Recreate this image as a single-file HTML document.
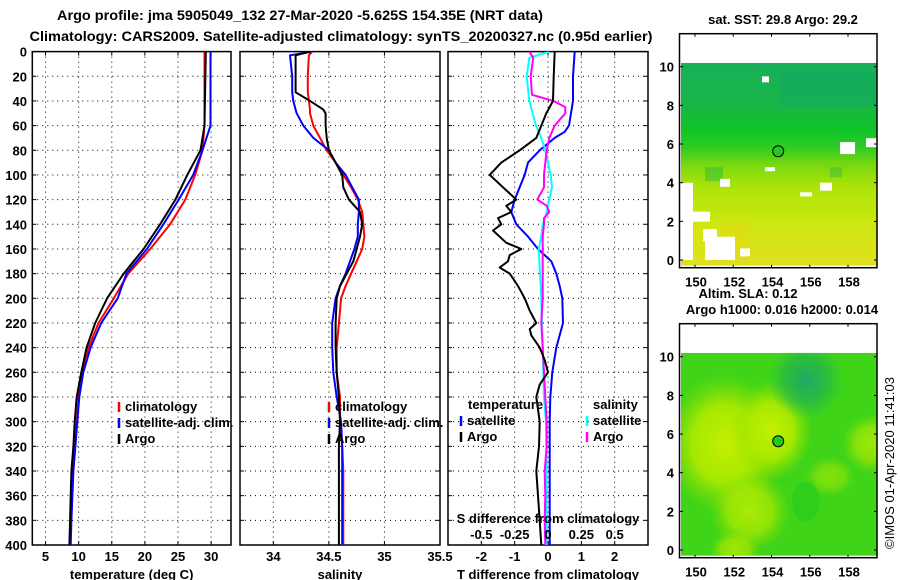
<!DOCTYPE html>
<html><head><meta charset="utf-8"><style>
html,body{margin:0;padding:0;background:#fff}
svg{display:block;font-family:"Liberation Sans",Arial,sans-serif;font-weight:bold}
</style></head><body>
<svg id="s" width="900" height="580" viewBox="0 0 900 580" xmlns="http://www.w3.org/2000/svg">
<defs>
<linearGradient id="sstg" x1="0" y1="0" x2="0" y2="1">
<stop offset="0" stop-color="#18b058"/><stop offset="0.2" stop-color="#18b448"/>
<stop offset="0.33" stop-color="#10c428"/><stop offset="0.42" stop-color="#30cc20"/>
<stop offset="0.5" stop-color="#78d810"/><stop offset="0.62" stop-color="#b0e408"/>
<stop offset="0.8" stop-color="#cce810"/><stop offset="1" stop-color="#e0e020"/></linearGradient>
<radialGradient id="yb1" cx="0.5" cy="0.5" r="0.5"><stop offset="0" stop-color="#c4f000"/><stop offset="0.55" stop-color="#b0ea00" stop-opacity="0.9"/><stop offset="1" stop-color="#90e000" stop-opacity="0"/></radialGradient>
<radialGradient id="tb1" cx="0.5" cy="0.5" r="0.5"><stop offset="0" stop-color="#20a868"/><stop offset="0.6" stop-color="#20b050" stop-opacity="0.6"/><stop offset="1" stop-color="#20c040" stop-opacity="0"/></radialGradient>
</defs>
<text x="300" y="20" font-size="14" text-anchor="middle" textLength="486" lengthAdjust="spacingAndGlyphs">Argo profile: jma 5905049_132 27-Mar-2020 -5.625S 154.35E (NRT data)</text>
<text x="341" y="41" font-size="14" text-anchor="middle" textLength="623" lengthAdjust="spacingAndGlyphs">Climatology: CARS2009. Satellite-adjusted climatology: synTS_20200327.nc (0.95d earlier)</text>
<g id="plots"></g>
<g id="maps"></g>
</svg>
<script>
// ---- data ----
const depthT = [0,60,80,100,120,140,160,180,200,220,240,260,280,300,320,340,360,380,400];
const tempArgo = [29.2,29.0,28.4,26.4,24.6,22.3,19.8,16.8,14.3,12.5,11.2,10.4,9.7,9.4,9.2,8.9,8.8,8.7,8.6];
const tempClim = [29.0,29.0,28.7,27.6,26.1,23.8,20.8,17.5,15.3,13.0,11.5,10.5,10.0,9.7,9.3,9.1,8.9,8.8,8.7];
const tempSat  = [29.9,29.9,28.7,27.3,25.1,22.8,20.3,17.2,15.9,13.4,11.8,10.7,10.1,9.8,9.5,9.2,9.05,8.9,8.8];
const depthS = [0,3,20,30,33,40,47,50,60,70,80,90,100,110,120,130,140,150,160,170,180,190,200,220,240,260,280,300,320,340,360,380,400];
const salArgo = [34.33,34.20,34.20,34.20,34.20,34.33,34.45,34.47,34.47,34.48,34.50,34.56,34.62,34.63,34.68,34.78,34.80,34.78,34.75,34.72,34.66,34.60,34.57,34.56,34.56,34.57,34.59,34.60,34.59,34.59,34.59,34.59,34.59];
const salClim = [34.35,34.32,34.31,34.31,34.31,34.32,34.33,34.33,34.36,34.42,34.48,34.56,34.63,34.70,34.76,34.80,34.81,34.82,34.80,34.75,34.70,34.65,34.61,34.59,34.57,34.57,34.60,34.60,34.62,34.63,34.63,34.63,34.63];
const salSat  = [34.35,34.15,34.17,34.17,34.17,34.18,34.20,34.21,34.27,34.36,34.50,34.56,34.65,34.71,34.77,34.77,34.76,34.76,34.73,34.69,34.65,34.60,34.56,34.53,34.53,34.54,34.57,34.61,34.62,34.62,34.62,34.62,34.62];
const dDepthTS = [0,20,40,60,65,70,80,90,100,110,120,130,140,150,160,170,180,190,200,220,240,260,280,300,400];
const dTSat = [0.8,0.75,0.75,0.63,0.5,0.2,-0.25,-0.6,-0.7,-0.85,-1.0,-1.1,-0.95,-0.6,-0.3,0.1,0.25,0.35,0.43,0.45,0.25,0.13,0.07,0.05,0.05];
const dDepthTA = [0,20,40,50,60,70,80,90,100,110,120,125,130,135,140,145,155,160,165,170,175,180,190,200,210,220,225,230,240,250,260,270,280,290,300,320,340,360,380,400];
const dTArgo = [0.2,0.17,0.15,-0.05,-0.2,-0.35,-0.85,-1.4,-1.75,-1.35,-0.95,-1.25,-1.1,-1.5,-1.4,-1.65,-1.25,-0.8,-1.15,-1.2,-1.45,-1.15,-0.9,-0.7,-0.55,-0.35,-0.55,-0.5,-0.25,-0.1,0,-0.25,-0.35,-0.3,-0.25,-0.27,-0.35,-0.3,-0.25,-0.2];
const dDepthSS = [0,5,20,40,60,70,80,90,100,110,120,130,140,150,160,180,200,240,280,300,340,400];
const dSSat = [0.01,-0.14,-0.16,-0.14,-0.09,-0.05,-0.02,0,0.02,0.03,0.01,-0.01,-0.04,-0.05,-0.07,-0.06,-0.05,-0.04,-0.03,-0.015,-0.01,-0.01];
const dDepthSA = [0,5,20,35,40,45,50,60,70,80,90,100,110,120,125,130,135,140,150,160,180,200,220,240,260,280,300,320,340,360,380,400];
const dSArgo = [-0.14,-0.11,-0.13,-0.12,0.04,0.13,0.13,0.05,0.01,-0.01,-0.02,-0.03,-0.03,-0.08,-0.01,0.01,-0.03,-0.03,-0.04,-0.04,-0.04,-0.04,-0.05,-0.04,-0.03,-0.02,-0.01,-0.01,-0.025,-0.02,-0.025,-0.02];
const depthTicks = [0,20,40,60,80,100,120,140,160,180,200,220,240,260,280,300,320,340,360,380,400];
const tTicks = [5,10,15,20,25,30];
const sTicks = [34,34.5,35,35.5];
const dtTicks = [-2,-1,0,1,2];
const dsTicks = [-0.5,-0.25,0,0.25,0.5];
const dsLabels = ['-0.5','-0.25','0','0.25','0.5'];
const lonTicks = [150,152,154,156,158];
const latTicks = [0,2,4,6,8,10];
const argoLon = 154.35, argoLat = 5.625;

const NS='http://www.w3.org/2000/svg';
const plots=document.getElementById('plots');
function mk(tag,attrs,parent){const e=document.createElementNS(NS,tag);for(const k in attrs)e.setAttribute(k,attrs[k]);(parent||plots).appendChild(e);return e;}
const yTop=51.6, yBot=545;
const yD=d=>yTop+d*(yBot-yTop)/400;
function lin(d0,d1,r0,r1){return v=>r0+(v-d0)*(r1-r0)/(d1-d0);}
const xT=lin(3,33,32.3,231);
const xS=lin(33.7,35.5,240,440);
const xDT=lin(-3,3,448,648);
const xDS=lin(-0.75,0.75,448,648);

function panel(x0,x1,name,vt,vfun,labels,title,showDepth){
  const g=mk('g',{});
  
  
  depthTicks.forEach((d,i)=>{
    const y=yD(d);
    if(i>0&&i<depthTicks.length-1){
      const l=mk('line',{x1:x0,x2:x1,y1:y,y2:y,stroke:'#000','stroke-width':1,'stroke-dasharray':'1,4'},g);
      
      
    }
    mk('line',{x1:x0,x2:x0+4,y1:y,y2:y,stroke:'#000'},g);
    mk('line',{x1:x1-4,x2:x1,y1:y,y2:y,stroke:'#000'},g);
    if(showDepth){
      const t=mk('text',{x:27,y:y+5,'font-size':13,'text-anchor':'end'},g);
      t.textContent=d;
      
      
    }
  });
  vt.forEach((v,i)=>{
    const x=vfun(v);
    const l=mk('line',{x1:x,x2:x,y1:yTop,y2:yBot,stroke:'#000','stroke-dasharray':'1,4'},g);
    
    
    mk('line',{x1:x,x2:x,y1:yTop,y2:yTop+4,stroke:'#000'},g);
    mk('line',{x1:x,x2:x,y1:yBot-4,y2:yBot,stroke:'#000'},g);
    if(labels){
      const t=mk('text',{x:x,y:561,'font-size':13,'text-anchor':'middle'},g);
      t.textContent=labels[i];
      
      
    }
  });
  const r=mk('rect',{x:x0,y:yTop,width:x1-x0,height:yBot-yTop,fill:'none',stroke:'#000','stroke-width':1.5},g);
  
  
  const tt=mk('text',{x:(x0+x1)/2,y:579,'font-size':13,'text-anchor':'middle'},g);
  tt.textContent=title;
  
  
  return g;
}
function series(xs,ds,xf,color,w,name,clip){
  const pts=xs.map((v,i)=>xf(v).toFixed(1)+','+yD(ds[i]).toFixed(1)).join(' ');
  const p=mk('polyline',{points:pts,fill:'none',stroke:color,'stroke-width':w,'stroke-linejoin':'round','clip-path':clip});
  
  
}
function clipFor(id,x0,x1){const d=document.querySelector('defs');const c=mk('clipPath',{id:id},d);mk('rect',{x:x0,y:yTop,width:x1-x0,height:yBot-yTop},c);return 'url(#'+id+')';}
function legend(x,y,items,name){
  items.forEach((it,i)=>{
    const g=mk('g',{});
    
    
    mk('line',{x1:x,x2:x,y1:y+i*16-9,y2:y+i*16+1,stroke:it[0],'stroke-width':2.5},g);
    const t=mk('text',{x:x+6,y:y+i*16,'font-size':13},g);t.textContent=it[1];
  });
}
panel(32.3,231,'temperature-panel',tTicks,xT,tTicks.map(String),'temperature (deg C)',true);
const c1=clipFor('c1',32.3,231);
series(tempClim,depthT,xT,'#ff0000',2,'climatology-temperature-line',c1);
series(tempSat,depthT,xT,'#0000ff',2,'satellite-temperature-line',c1);
series(tempArgo,depthT,xT,'#000000',2,'argo-temperature-line',c1);
legend(119,411,[['#ff0000','climatology'],['#0000ff','satellite-adj. clim.'],['#000','Argo']],'legend-temp');
panel(240,440,'salinity-panel',sTicks,xS,['34','34.5','35','35.5'],'salinity',false);
const c2=clipFor('c2',240,440);
series(salClim,depthS,xS,'#ff0000',2,'climatology-salinity-line',c2);
series(salSat,depthS,xS,'#0000ff',2,'satellite-salinity-line',c2);
series(salArgo,depthS,xS,'#000000',2,'argo-salinity-line',c2);
legend(329,411,[['#ff0000','climatology'],['#0000ff','satellite-adj. clim.'],['#000','Argo']],'legend-sal');
panel(448,648,'difference-panel',dtTicks,xDT,['-2','-1','0','1','2'],'T difference from climatology',false);
const c3=clipFor('c3',448,648);
series(dTSat,dDepthTS,xDT,'#0000ff',2,'satellite-t-difference-line',c3);
series(dSSat,dDepthSS,xDS,'#00ffff',2,'satellite-s-difference-line',c3);
series(dSArgo,dDepthSA,xDS,'#ff00ff',2,'argo-s-difference-line',c3);
series(dTArgo,dDepthTA,xDT,'#000000',2,'argo-t-difference-line',c3);
(function(){
  let t=mk('text',{x:468,y:409,'font-size':13});t.textContent='temperature';
  
  t=mk('text',{x:593,y:409,'font-size':13});t.textContent='salinity';
  
  legend(461,425,[['#0000ff','satellite'],['#000','Argo']],'legend-tdiff');
  legend(587,425,[['#00ffff','satellite'],['#ff00ff','Argo']],'legend-sdiff');
  t=mk('text',{x:548,y:523,'font-size':13,'text-anchor':'middle'});t.textContent='S difference from climatology';
  
  dsTicks.forEach((v,i)=>{const s=mk('text',{x:xDS(v),y:539,'font-size':13,'text-anchor':'middle'});s.textContent=dsLabels[i];
    });
})();

// ---- maps ----
const maps=document.getElementById('maps');
const xLon=lin(150,158,695,848);
function mapPanel(top,lat0y,lat10y,name,kind){
  const g=mk('g',{},maps);
  
  
  const yLat=lin(0,10,lat0y,lat10y);
  const dTop=yLat(10.2), dBot=yLat(-0.3);
  const cp=mk('clipPath',{id:'cp'+kind},document.querySelector('defs'));
  mk('rect',{x:681,y:dTop,width:196,height:dBot-dTop},cp);
  const inner=mk('g',{'clip-path':'url(#cp'+kind+')'},g);
  if(kind==='sst'){
    mk('rect',{x:681,y:dTop,width:196,height:dBot-dTop,fill:'url(#sstg)'},inner);
    [[681,yLat(2),16,25,'#f0d810'],[720,yLat(2),30,yLat(0)-yLat(2),'#e8d818'],[705,yLat(4.8),18,14,'#20b840'],[830,yLat(4.8),12,10,'#30b840'],[780,yLat(9.8),97,yLat(8)-yLat(9.8),'#10a868']].forEach(r=>{
      mk('rect',{x:r[0],y:r[1],width:r[2],height:r[3],fill:r[4],opacity:0.45},inner);});
    [[681,yLat(4),12,yLat(0)-yLat(4)],[690,yLat(2.5),20,10],[720,yLat(4.2),10,8],[740,yLat(0.6),10,8],[705,yLat(1.2),30,yLat(0)-yLat(1.2)],[840,yLat(6.1),15,12],[866,yLat(6.3),11,9],[820,yLat(4),12,8],[765,yLat(4.8),10,4],[800,yLat(3.5),12,4],[703,yLat(1.6),14,12],[762,yLat(9.5),7,6]].forEach(r=>{
      mk('rect',{x:r[0],y:r[1],width:r[2],height:r[3],fill:'#fff'},inner);});
  } else {
    mk('rect',{x:681,y:dTop,width:196,height:dBot-dTop,fill:'#40d418'},inner);
    [[725,yLat(5.5),60,70,1],[772,yLat(6.2),40,50,1],[750,yLat(2),40,40,0.8],[872,yLat(5.5),30,30,0.7],[735,yLat(0),25,20,0.7],[830,yLat(3.8),25,20,0.5]].forEach(c=>{
      mk('ellipse',{cx:c[0],cy:c[1],rx:c[2],ry:c[3],fill:'url(#yb1)',opacity:c[4]},inner);});
    mk('ellipse',{cx:xLon(155.8),cy:yLat(8.8),rx:38,ry:40,fill:'url(#tb1)'},inner);
    mk('ellipse',{cx:xLon(155.8),cy:yLat(2.5),rx:14,ry:20,fill:'#20c820',opacity:0.5},inner);
  }
  mk('rect',{x:679.5,y:top,width:197.5,height:yLat(-0.4)-top,fill:'none',stroke:'#000','stroke-width':1.5},g);
  const c=mk('circle',{cx:xLon(argoLon),cy:yLat(argoLat),r:5.5,fill:'#20c820',stroke:'#000','stroke-width':1},g);
  
  
  latTicks.forEach(v=>{
    const y=yLat(v);
    mk('line',{x1:679.5,x2:683,y1:y,y2:y,stroke:'#000'},g);
    mk('line',{x1:874,x2:877,y1:y,y2:y,stroke:'#000'},g);
    const t=mk('text',{x:674,y:y+5,'font-size':13,'text-anchor':'end'},g);t.textContent=v;
    
  });
  const bot=yLat(-0.4);
  lonTicks.forEach(v=>{
    const x=xLon(v);
    mk('line',{x1:x,x2:x,y1:top,y2:top+3,stroke:'#000'},g);
    mk('line',{x1:x,x2:x,y1:bot-3,y2:bot,stroke:'#000'},g);
    const t=mk('text',{x:x+1,y:bot+19,'font-size':13,'text-anchor':'middle'},g);t.textContent=v;
    
  });
}
mapPanel(33.7,260,66.7,'sst-map','sst');
mapPanel(323.7,550,356.7,'sla-map','sla');
(function(){
  let t=mk('text',{x:783,y:24,'font-size':13,'text-anchor':'middle'},maps);t.textContent='sat. SST: 29.8 Argo: 29.2';
  
  t=mk('text',{x:748,y:298,'font-size':13,'text-anchor':'middle'},maps);t.textContent='Altim. SLA: 0.12';
  
  t=mk('text',{x:782,y:314,'font-size':13,'text-anchor':'middle'},maps);t.textContent='Argo h1000: 0.016 h2000: 0.014';
  
  t=mk('text',{x:0,y:0,'font-size':13,'font-weight':'normal','text-anchor':'middle',transform:'translate(894,463) rotate(-90)'},maps);t.textContent='©IMOS 01-Apr-2020 11:41:03';
  
})();
</script>
</body></html>
